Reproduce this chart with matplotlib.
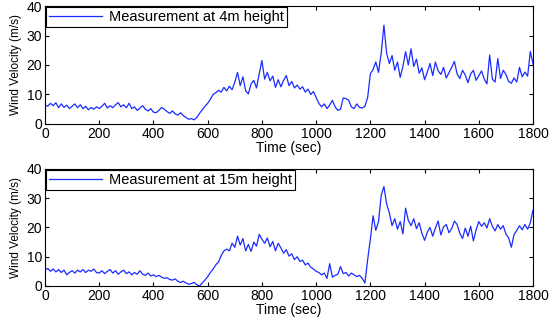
import numpy as np
import matplotlib
matplotlib.use("Agg")
import matplotlib.pyplot as plt

plt.rcParams['font.family'] = ['Liberation Sans', 'DejaVu Sans']

# sample times (sec), one reading every 10 s
time_s = np.arange(0, 1810, 10)

# wind velocity at 4m height (m/s)
v_4m = [
    6.5, 6.0, 7.0, 6.2, 7.2, 5.5, 6.8, 5.6, 6.4, 5.2,
    6.0, 6.8, 5.5, 6.5, 5.2, 6.0, 4.8, 5.6, 5.0, 5.8,
    5.2, 6.0, 7.0, 5.4, 6.2, 5.5, 6.5, 7.2, 5.8, 6.5,
    5.5, 7.0, 5.2, 5.8, 4.6, 5.4, 6.2, 5.0, 4.4, 5.2,
    4.0, 3.8, 4.6, 5.6, 5.0, 4.2, 3.6, 4.4, 3.4, 3.0,
    3.8, 2.8, 2.2, 1.6, 1.8, 1.4, 2.2, 3.6, 4.8, 6.0,
    7.0, 8.4, 10.0, 10.6, 11.4, 10.8, 12.4, 11.2, 12.8, 11.6,
    14.2, 17.5, 13.0, 16.0, 11.2, 10.2, 13.6, 14.8, 12.2, 17.0,
    21.5, 15.2, 17.5, 14.6, 16.2, 12.4, 15.0, 12.6, 14.8, 16.4,
    13.0, 14.4, 12.2, 13.2, 11.8, 12.6, 10.8, 11.8, 10.0, 11.0,
    9.0, 7.0, 5.8, 6.8, 5.2, 6.4, 8.0, 5.8, 4.6, 5.0,
    8.8, 8.6, 8.0, 5.8, 5.2, 6.8, 5.6, 5.4, 6.0, 9.0,
    17.0, 18.5, 21.0, 17.5, 24.0, 33.5, 24.0, 20.5, 23.2, 18.2,
    21.0, 15.8, 19.5, 24.5, 20.0, 25.5, 19.5, 22.0, 17.2, 19.0,
    15.0, 17.6, 20.5, 16.4, 21.0, 18.0, 16.8, 19.2, 15.6, 17.4,
    19.2, 21.2, 17.0, 15.4, 18.2, 16.6, 14.0, 17.0, 18.2, 14.8,
    16.4, 18.0, 15.2, 13.6, 23.4, 15.2, 14.2, 22.2, 15.4, 18.2,
    16.8, 14.4, 13.8, 15.6, 14.2, 19.2, 16.0, 17.6, 16.2, 24.6,
    20.4,
]

# wind velocity at 15m height (m/s)
v_15m = [
    5.4, 6.0, 5.0, 5.8, 4.8, 5.6, 4.6, 5.4, 3.8, 4.6,
    5.2, 4.4, 5.4, 4.8, 5.6, 4.6, 5.4, 5.0, 5.8, 4.6,
    4.4, 5.2, 4.2, 5.0, 5.6, 4.4, 5.2, 4.0, 4.8, 5.4,
    4.2, 4.8, 3.8, 4.6, 4.0, 5.2, 4.0, 3.6, 4.4, 3.4,
    3.8, 3.2, 3.6, 3.0, 2.6, 2.8, 2.2, 2.0, 2.4, 1.6,
    1.2, 1.6, 1.0, 0.6, 0.8, 1.2, 0.4, 0.0, 1.0, 2.0,
    3.2, 4.6, 5.8, 7.2, 8.2, 10.4, 12.0, 12.6, 12.0, 14.6,
    13.2, 17.0, 14.0, 16.2, 12.0, 14.2, 11.8, 15.0, 13.6, 17.6,
    16.0, 14.6, 16.4, 13.4, 15.2, 12.0, 14.6, 13.0, 11.2, 12.4,
    10.2, 11.0, 9.0, 10.0, 8.4, 8.8, 7.2, 7.8, 6.4, 5.8,
    5.0, 4.6, 3.8, 4.4, 2.6, 7.6, 3.0, 3.6, 4.0, 6.6,
    4.2, 4.6, 3.4, 4.4, 3.8, 3.2, 3.6, 2.6, 1.0, 9.0,
    16.0, 24.0, 19.0, 22.0, 31.0, 34.0, 28.0, 25.0, 20.6, 23.0,
    19.4, 22.0, 17.8, 26.6, 22.4, 20.6, 23.0, 19.6, 21.6, 18.0,
    15.6, 18.4, 20.0, 17.0, 19.8, 22.2, 17.4, 20.2, 21.0, 18.2,
    19.6, 22.2, 21.0, 18.0, 16.2, 19.8, 17.0, 20.4, 15.4, 19.2,
    22.0, 20.4, 21.6, 19.8, 23.0, 20.4, 18.8, 21.0, 19.4, 20.6,
    17.8, 16.4, 13.2, 17.6, 19.0, 20.6, 19.2, 21.0, 19.4, 21.6,
    26.0,
]

series = [(v_4m, "Measurement at 4m height"), (v_15m, "Measurement at 15m height")]
ax_boxes = [[0.0814, 0.609, 0.8825, 0.372], [0.0814, 0.098, 0.8825, 0.369]]

fig = plt.figure(figsize=(5.53, 3.17), dpi=100)
for box, (vals, label) in zip(ax_boxes, series):
    ax = fig.add_axes(box)
    ax.plot(time_s, vals, color="#1a2cff", lw=0.9, label=label)
    ax.set_xlim(0, 1800)
    ax.set_ylim(0, 40)
    ax.set_xticks(range(0, 1801, 200))
    ax.set_yticks([0, 10, 20, 30, 40])
    ax.tick_params(direction="in", top=True, right=True, labelsize=10, length=3, pad=2)
    ax.set_xlabel("Time (sec)", fontsize=10, labelpad=0)
    ax.set_ylabel("Wind Velocity (m/s)", fontsize=8.5, labelpad=3,
                  family=["Liberation Sans Narrow", "Liberation Sans", "DejaVu Sans"])
    leg = ax.legend(loc="upper left", bbox_to_anchor=(0, 1), borderaxespad=0.1,
                    fancybox=False, edgecolor="black", framealpha=1, fontsize=10.5,
                    handlelength=3.6, borderpad=0.2, handletextpad=0.5)
    leg.get_frame().set_linewidth(0.8)

fig.savefig("out.png", dpi=100)
